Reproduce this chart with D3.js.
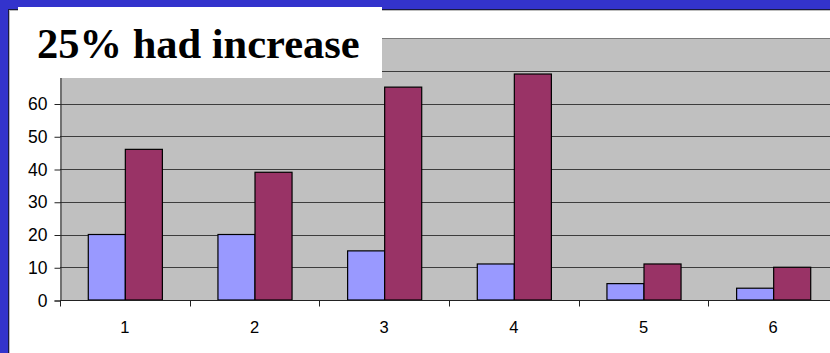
<!DOCTYPE html>
<html>
<head>
<meta charset="utf-8">
<script src="https://cdn.jsdelivr.net/npm/d3@7"></script>
<style>
  html, body { margin: 0; padding: 0; background: #3333cc; overflow: hidden; }
  svg { display: block; }
</style>
</head>
<body>
<svg id="chart" width="830" height="353"></svg>
<script>
// Categories and the two series per category
const categories = ["1", "2", "3", "4", "5", "6"];
const seriesNames = ["before", "after"];
const seriesA = [20, 20, 15, 11, 5, 3.6];
const seriesB = [46, 39, 65, 69, 11, 10];
const gridValues = [10, 20, 30, 40, 50, 60, 70, 80];
const yTickLabels = [0, 10, 20, 30, 40, 50, 60];
const titleText = "25% had increase";

const colors = { before: "#9999ff", after: "#993366" };

const svg = d3.select("#chart");

// Slide panel
svg.append("rect").attr("x", 8).attr("y", 9).attr("width", 830).attr("height", 360)
  .attr("fill", "#1a1a40");
svg.append("rect").attr("x", 9).attr("y", 10).attr("width", 830).attr("height", 360)
  .attr("fill", "#bdbdbd");
svg.append("rect").attr("x", 10).attr("y", 11).attr("width", 830).attr("height", 360)
  .attr("fill", "#ffffff");

const plotLeft = 60, plotRight = 838, plotTop = 38, plotBottom = 300;

const x = d3.scaleBand().domain(categories).range([plotLeft, plotRight]).paddingInner(0).paddingOuter(0);
const x1 = d3.scaleBand().domain(seriesNames).range([0, x.bandwidth()]).paddingInner(0).paddingOuter(0.75);
const y = d3.scaleLinear().domain([0, 80]).range([plotBottom, plotTop]);

// Plot background
svg.append("rect")
  .attr("x", plotLeft).attr("y", plotTop)
  .attr("width", plotRight - plotLeft).attr("height", plotBottom - plotTop)
  .attr("fill", "#c0c0c0");

// Horizontal gridlines
svg.append("g").selectAll("line")
  .data(gridValues)
  .join("line")
  .attr("x1", plotLeft).attr("x2", plotRight)
  .attr("y1", d => Math.round(y(d)) + 0.5).attr("y2", d => Math.round(y(d)) + 0.5)
  .attr("stroke", d => d === 80 ? "#7a7a7a" : "#3c3c3c")
  .attr("stroke-width", 1);

// Bars
const rows = categories.map((c, i) => ({ cat: c, values: [
  { key: "before", value: seriesA[i] },
  { key: "after", value: seriesB[i] }
] }));

svg.append("g").selectAll("g")
  .data(rows)
  .join("g")
  .attr("transform", d => `translate(${x(d.cat)},0)`)
  .selectAll("rect")
  .data(d => d.values)
  .join("rect")
  .attr("x", d => x1(d.key) + 0.5)
  .attr("y", d => y(d.value))
  .attr("width", x1.bandwidth())
  .attr("height", d => plotBottom - y(d.value))
  .attr("fill", d => colors[d.key])
  .attr("stroke", "#000")
  .attr("stroke-width", 1.2);

// Y axis (upper ticks sit under the title box)
const yAxis = d3.axisLeft(y).tickValues(yTickLabels).tickSize(6).tickPadding(7);
const gy = svg.append("g").attr("transform", `translate(${plotLeft + 0.5},0.5)`).call(yAxis);
gy.attr("font-size", null).attr("font-family", null);
gy.select(".domain").attr("stroke", "#222");
gy.selectAll(".tick line").attr("stroke", "#222");
gy.selectAll(".tick text")
  .style("font-family", "Arial, 'Liberation Sans', sans-serif")
  .style("font-size", "17.5px").attr("fill", "#000");

// X axis: ticks on category boundaries, labels centred in bands
const gx = svg.append("g").attr("transform", `translate(0,${plotBottom + 0.5})`);
gx.append("line").attr("x1", plotLeft).attr("x2", plotRight).attr("y1", 0).attr("y2", 0)
  .attr("stroke", "#222");
gx.selectAll("line.tk")
  .data(categories)
  .join("line").attr("class", "tk")
  .attr("x1", d => Math.round(x(d)) + 0.5).attr("x2", d => Math.round(x(d)) + 0.5)
  .attr("y1", 0).attr("y2", 6)
  .attr("stroke", "#222");
gx.selectAll("text")
  .data(categories)
  .join("text")
  .attr("x", d => x(d) + x.bandwidth() / 2)
  .attr("y", 32.5)
  .attr("text-anchor", "middle")
  .style("font-family", "Arial, 'Liberation Sans', sans-serif")
  .style("font-size", "16.5px").attr("fill", "#000")
  .text(d => d);

// Title box
svg.append("rect").attr("x", 18).attr("y", 7).attr("width", 364).attr("height", 71)
  .attr("fill", "#ffffff");
svg.append("text")
  .attr("x", 37).attr("y", 58)
  .attr("font-family", "'Times New Roman', 'Liberation Serif', serif")
  .attr("font-weight", "bold")
  .attr("font-size", 42.5)
  .attr("fill", "#000")
  .text(titleText);
</script>
</body>
</html>
